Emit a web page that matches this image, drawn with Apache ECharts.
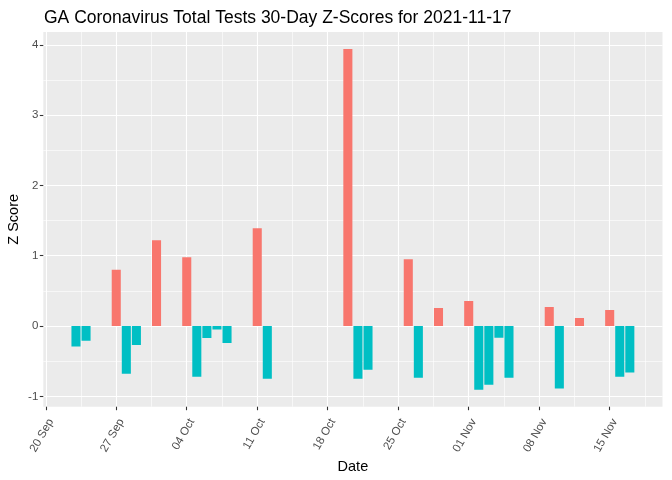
<!DOCTYPE html>
<html>
<head>
<meta charset="utf-8">
<script src="https://cdn.jsdelivr.net/npm/echarts@6/dist/echarts.min.js"></script>
<style>
  html, body { margin: 0; padding: 0; background: #fff; }
  #chart { width: 672px; height: 480px; }
</style>
</head>
<body>
<div id="chart"></div>
<script>
// z-scores, one per reported day
var dates = [
  "2021-09-23", "2021-09-24", "2021-09-27", "2021-09-28", "2021-09-29",
  "2021-10-01", "2021-10-04", "2021-10-05", "2021-10-06", "2021-10-07",
  "2021-10-08", "2021-10-11", "2021-10-12", "2021-10-20", "2021-10-21",
  "2021-10-22", "2021-10-26", "2021-10-27", "2021-10-29", "2021-11-01",
  "2021-11-02", "2021-11-03", "2021-11-04", "2021-11-05", "2021-11-09",
  "2021-11-10", "2021-11-12", "2021-11-15", "2021-11-16", "2021-11-17"
];
var zScores = [
  -0.29, -0.21, 0.80, -0.68, -0.27,
  1.22, 0.98, -0.72, -0.17, -0.05,
  -0.24, 1.39, -0.75, 3.94, -0.75,
  -0.62, 0.95, -0.735, 0.256, 0.355,
  -0.905, -0.835, -0.166, -0.735, 0.27,
  -0.89, 0.114, 0.228, -0.72, -0.66
];
var tickDates = ["2021-09-20", "2021-09-27", "2021-10-04", "2021-10-11", "2021-10-18",
                 "2021-10-25", "2021-11-01", "2021-11-08", "2021-11-15"];
var yTicks = [-1, 0, 1, 2, 3, 4];
var yMinor = [-0.5, 0.5, 1.5, 2.5, 3.5];

var months = ["Jan", "Feb", "Mar", "Apr", "May", "Jun", "Jul", "Aug", "Sep", "Oct", "Nov", "Dec"];
var DAY = 86400000;
var origin = Date.parse(tickDates[0]);
function dayNum(s) { return Math.round((Date.parse(s) - origin) / DAY); }
function dayLabel(v) {
  var d = new Date(origin + v * DAY);
  var dd = d.getUTCDate();
  return (dd < 10 ? "0" : "") + dd + " " + months[d.getUTCMonth()];
}

var xTicks = tickDates.map(dayNum);
var xMinor = xTicks.map(function (t) { return t + 3.5; });
var barData = dates.map(function (d, i) { return [dayNum(d), zScores[i]]; });

var halfBar = 0.45;
var xMin = dayNum(dates[0]) - halfBar, xMax = dayNum(dates[dates.length - 1]) + halfBar;
var xPad = (xMax - xMin) * 0.05;
var yLo = Math.min.apply(null, zScores), yHi = Math.max.apply(null, zScores);
var yPad = (yHi - yLo) * 0.05;

var gridLine = { show: true, lineStyle: { color: "#ffffff", width: 1.1 } };
var minorLine = { show: true, lineStyle: { color: "#ffffff", width: 0.6 } };
var fontFam = "Liberation Sans, Arial, sans-serif";

function renderBar(params, api) {
  var d = api.value(0), z = api.value(1);
  var p0 = api.coord([d - halfBar, 0]);
  var p1 = api.coord([d + halfBar, z]);
  return {
    type: "rect",
    shape: { x: p0[0], y: Math.min(p0[1], p1[1]), width: p1[0] - p0[0], height: Math.abs(p1[1] - p0[1]) },
    style: { fill: z >= 0 ? "#F8766D" : "#00BFC4" }
  };
}

var chart = echarts.init(document.getElementById("chart"), null, { renderer: "canvas" });
chart.setOption({
  animation: false,
  backgroundColor: "#ffffff",
  title: {
    text: "GA Coronavirus Total Tests 30-Day Z-Scores for 2021-11-17",
    left: 39, top: 4,
    textStyle: { fontFamily: fontFam, fontSize: 17.5, fontWeight: "normal", color: "#000" }
  },
  grid: {
    left: 43.3, right: 9.5, top: 32, bottom: 73.3,
    containLabel: false, outerBoundsMode: "none",
    show: true, backgroundColor: "#EBEBEB", borderWidth: 0
  },
  xAxis: [{
    type: "value", min: xMin - xPad, max: xMax + xPad,
    name: "Date", nameLocation: "middle", nameGap: 53, nameMoveOverlap: false,
    nameTextStyle: { fontFamily: fontFam, fontSize: 14.5, color: "#000" },
    axisLine: { show: false, onZero: false },
    axisTick: { show: true, length: 3.5, customValues: xTicks, lineStyle: { color: "#333333", width: 1.1 } },
    axisLabel: {
      customValues: xTicks, rotate: 60, margin: 10,
      align: "right", verticalAlign: "top",
      fontFamily: fontFam, fontSize: 11.5, color: "#4D4D4D",
      formatter: function (v) { return dayLabel(v); }
    },
    splitLine: gridLine, z: 1
  }, {
    type: "value", min: xMin - xPad, max: xMax + xPad, position: "bottom",
    axisLine: { show: false, onZero: false }, axisLabel: { show: false },
    axisTick: { show: false, customValues: xMinor },
    splitLine: minorLine, z: 0
  }],
  yAxis: [{
    type: "value", min: yLo - yPad, max: yHi + yPad,
    name: "Z Score", nameLocation: "middle", nameGap: 22, nameMoveOverlap: false,
    nameTextStyle: { fontFamily: fontFam, fontSize: 14.5, color: "#000" },
    axisLine: { show: false, onZero: false },
    axisTick: { show: true, length: 3.5, customValues: yTicks, lineStyle: { color: "#333333", width: 1.1 } },
    axisLabel: { customValues: yTicks, margin: 5, fontFamily: fontFam, fontSize: 11.5, color: "#4D4D4D" },
    splitLine: gridLine, z: 1
  }, {
    type: "value", min: yLo - yPad, max: yHi + yPad, position: "left",
    axisLine: { show: false, onZero: false }, axisLabel: { show: false },
    axisTick: { show: false, customValues: yMinor },
    splitLine: minorLine, z: 0
  }],
  series: [{
    type: "custom",
    renderItem: renderBar,
    data: barData,
    encode: { x: 0, y: 1 },
    clip: true,
    z: 5
  }]
});
</script>
</body>
</html>
